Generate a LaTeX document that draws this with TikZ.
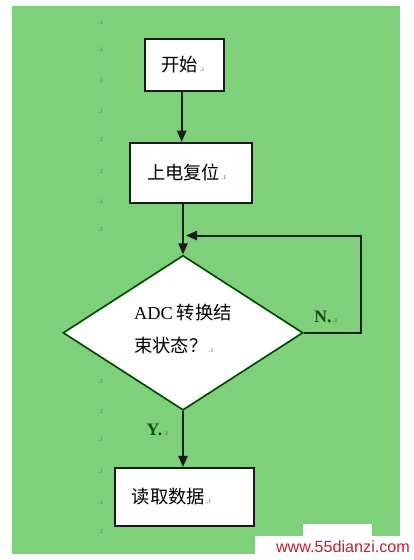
\documentclass[tikz,border=0pt]{standalone}
\usepackage{fontspec}
\setmainfont{Liberation Serif}
\newfontfamily\cjk{Noto Sans CJK SC}
\newfontfamily\websans{Liberation Sans}
\usepackage{xcolor}
\usetikzlibrary{shapes.geometric,arrows.meta,positioning}

\definecolor{pagegreen}{RGB}{127,208,123}
\definecolor{inkdark}{RGB}{20,30,20}
\definecolor{markred}{RGB}{200,30,45}
\newcommand{\pmark}{{\fontsize{6}{6}\selectfont\rmfamily\color{black!50}\,.\i}}

\begin{document}
\begin{tikzpicture}[
    node distance=1.3cm,
    stepbox/.style={rectangle, draw=inkdark, line width=1.3pt, fill=white, align=left, inner xsep=0.42cm, inner ysep=0pt, font=\cjk\fontsize{13}{22}\selectfont},
    decision/.style={diamond, draw=black!70!green, line width=1.2pt, fill=white, minimum width=6cm, minimum height=3.825cm, inner sep=0pt, align=left, font=\cjk\fontsize{13}{23}\selectfont},
    flow/.style={line width=1.4pt, draw=inkdark, -{Triangle[length=8pt,width=6.5pt]}},
    answer/.style={font=\rmfamily\bfseries\fontsize{12.5}{14}\selectfont, text=inkdark!80!green},
    pilcrow/.style={inner sep=0pt}
]

% page and background
\useasboundingbox (0,0) rectangle (10.325,-14);
\fill[white] (0,0) rectangle (10.325,-14);
\fill[pagegreen] (0.3,-0.15) rectangle (10.0,-13.85);

% paragraph marks down the left margin
\foreach \py [count=\k] in {23,50,81,112,140,172,202,230,382,412,440,472,503,532}
    \node[pilcrow] (mark\k) at (2.5,-\py*0.025) {\pmark};

% steps
\node[stepbox, text width=1.14cm, minimum height=1.3cm] (start) at (4.6125,-1.625) {开始\pmark};
\node[stepbox, text width=2.2cm, minimum height=1.5cm, below=1.25cm of start, xshift=0.1625cm] (reset) {上电复位\pmark};
\node[decision, below=1.27cm of reset, xshift=-0.2cm] (decide) {\raisebox{0.22cm}{\shortstack[l]{{\rmfamily ADC} 转换结\\[0.3cm]束状态？\pmark}}};
\node[stepbox, text width=2.63cm, minimum height=1.45cm, below=1.4cm of decide, xshift=0.0375cm] (read) {读取数据\pmark};

% connectors
\coordinate[above=0.475cm of decide.north] (join);
\draw[flow] ([xshift=-2pt]start.south) -- ([xshift=-2pt]start.south |- reset.north);
\draw[flow] (decide.north |- reset.south) -- (decide.north);
\draw[flow] (decide.east) -- ++(1.425cm,0) |- ([xshift=2pt]join);
\draw[flow] (decide.south) -- (decide.south |- read.north);

% branch labels
\node[answer, above=0.12cm of decide.east, xshift=0.55cm] (no) {N.\pmark};
\node[answer, below left=0.2cm and 0.25cm of decide.south] (yes) {Y.\pmark};

% watermark
\fill[white] (6.375,-13.4) rectangle (10.325,-13.85);
\fill[white] (7.575,-13.1) rectangle (9.3,-13.4);
\node[text=markred, font=\websans\fontsize{11.5}{12}\selectfont, inner sep=0pt] (site) at (8.575,-13.66) {www.55dianzi.com};

\end{tikzpicture}
\end{document}
